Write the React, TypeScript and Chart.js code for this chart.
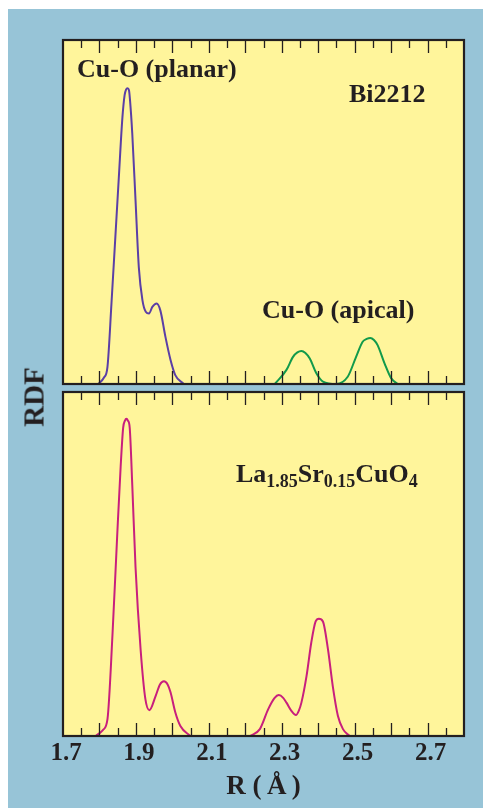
import React, { useEffect, useRef } from 'react';
import { Chart, registerables } from 'chart.js';

Chart.register(...registerables);

// ---- axis definition ----
const R_MIN = 1.7;
const R_MAX = 2.8;
const TICK_LABELS = ['1.7', '1.9', '2.1', '2.3', '2.5', '2.7'];
const MAJOR_TICKS = [1.8, 1.9, 2.0, 2.1, 2.2, 2.3, 2.4, 2.5, 2.6, 2.7];
const MINOR_TICKS = [1.75, 1.85, 1.95, 2.05, 2.15, 2.25, 2.35, 2.45, 2.55, 2.65, 2.75];

// ---- Bi2212: Cu-O (planar) ----
const biPlanarR = [1.797, 1.812, 1.822, 1.833, 1.843, 1.853, 1.863, 1.869, 1.873, 1.877, 1.881, 1.884, 1.890, 1.899, 1.908, 1.918, 1.927, 1.936, 1.945, 1.957, 1.967, 1.981, 1.995, 2.008, 2.031];
const biPlanarRDF = [0, 1.8, 5.0, 23.5, 41.6, 59.8, 77.5, 84.0, 85.6, 86.0, 85.4, 82.3, 72.8, 53.3, 33.9, 24.3, 21.0, 20.5, 22.4, 23.4, 21.4, 13.7, 7.0, 2.6, 0];

// ---- Bi2212: Cu-O (apical) ----
const biApicalR = [2.281, 2.313, 2.331, 2.343, 2.354, 2.365, 2.377, 2.395, 2.413, 2.450, 2.481, 2.504, 2.522, 2.533, 2.543, 2.553, 2.563, 2.582, 2.600, 2.618];
const biApicalRDF = [0, 4.1, 7.9, 9.2, 9.6, 9.0, 7.4, 3.1, 0.7, 0, 2.1, 7.9, 12.3, 13.1, 13.4, 12.8, 11.3, 6.0, 1.7, 0];

// ---- La1.85Sr0.15CuO4 ----
const lscoLowR = [1.790, 1.810, 1.822, 1.836, 1.849, 1.858, 1.865, 1.870, 1.874, 1.878, 1.883, 1.890, 1.899, 1.913, 1.926, 1.937, 1.954, 1.966, 1.977, 1.987, 1.995, 2.008, 2.022, 2.049];
const lscoLowRDF = [0, 1.8, 4.9, 30, 59, 78, 89.6, 91.7, 92.2, 91.7, 89.6, 73, 49, 25, 10.7, 7.5, 11.6, 15.0, 15.9, 15.0, 12.7, 6.9, 2.9, 0];
const lscoHighR = [2.213, 2.240, 2.263, 2.280, 2.292, 2.304, 2.313, 2.326, 2.339, 2.347, 2.354, 2.368, 2.381, 2.393, 2.402, 2.413, 2.427, 2.440, 2.454, 2.468, 2.486];
const lscoHighRDF = [0, 2.0, 7.8, 11.0, 11.9, 11.1, 9.7, 7.4, 6.1, 7.4, 9.7, 17.4, 27.1, 33.3, 34.1, 33.3, 25.1, 14.5, 5.9, 2.0, 0];

// ---- styles ----
const FONT = '"Liberation Serif", "Times New Roman", serif';
const INK = '#231f20';
const PANEL = '#fff59b';
const BG = '#97c4d7';
const PURPLE = '#5b3fa6';
const GREEN = '#129a4b';
const MAGENTA = '#c81f7d';

type Part = { t: string; sub?: boolean };
type Note = { parts: Part[]; dx: number; dy: number };

const TOP_NOTES: Note[] = [
  { parts: [{ t: 'Cu-O (planar)' }], dx: 14, dy: 37 },
  { parts: [{ t: 'Bi2212' }], dx: 286, dy: 62 },
  { parts: [{ t: 'Cu-O (apical)' }], dx: 199, dy: 278 },
];
const BOTTOM_NOTES: Note[] = [
  {
    parts: [
      { t: 'La' }, { t: '1.85', sub: true }, { t: 'Sr' }, { t: '0.15', sub: true },
      { t: 'CuO' }, { t: '4', sub: true },
    ],
    dx: 173,
    dy: 90,
  },
];

const pts = (r: number[], v: number[]) => r.map((x, i) => ({ x, y: v[i] }));

const line = (label: string, r: number[], v: number[], color: string) => ({
  label,
  data: pts(r, v),
  borderColor: color,
  borderWidth: 2,
  pointRadius: 0,
  fill: false,
  cubicInterpolationMode: 'monotone' as const,
});

const framePlugin = (notes: Note[]) => ({
  id: 'frame',
  beforeDraw(chart: any) {
    const { ctx, chartArea: a } = chart;
    ctx.save();
    ctx.fillStyle = PANEL;
    ctx.fillRect(a.left, a.top, a.right - a.left, a.bottom - a.top);
    ctx.restore();
  },
  afterDatasetsDraw(chart: any) {
    const { ctx, chartArea: a, scales } = chart;
    const x = scales.x;
    ctx.save();
    ctx.strokeStyle = INK;
    ctx.lineWidth = 1.3;
    const drawTicks = (vals: number[], len: number) =>
      vals.forEach((v) => {
        const px = Math.round(x.getPixelForValue(v)) + 0.5;
        ctx.beginPath();
        ctx.moveTo(px, a.top);
        ctx.lineTo(px, a.top + len);
        ctx.moveTo(px, a.bottom);
        ctx.lineTo(px, a.bottom - len);
        ctx.stroke();
      });
    drawTicks(MAJOR_TICKS, 13);
    drawTicks(MINOR_TICKS, 8);
    ctx.lineWidth = 2.2;
    ctx.strokeRect(a.left, a.top, a.right - a.left, a.bottom - a.top);

    ctx.fillStyle = INK;
    ctx.textBaseline = 'alphabetic';
    ctx.textAlign = 'left';
    notes.forEach((n) => {
      let cx = a.left + n.dx;
      const by = a.top + n.dy;
      n.parts.forEach((p) => {
        ctx.font = `bold ${p.sub ? 18 : 26}px ${FONT}`;
        ctx.fillText(p.t, cx, by + (p.sub ? 5 : 0));
        cx += ctx.measureText(p.t).width;
      });
    });
    ctx.restore();
  },
});

function TopPanel() {
  const ref = useRef<HTMLCanvasElement>(null);
  useEffect(() => {
    const chart = new Chart(ref.current!, {
      type: 'line',
      data: {
        datasets: [
          line('Cu-O (planar)', biPlanarR, biPlanarRDF, PURPLE),
          line('Cu-O (apical)', biApicalR, biApicalRDF, GREEN),
        ],
      },
      options: {
        responsive: false,
        animation: false,
        events: [],
        layout: { padding: 5 },
        plugins: { legend: { display: false }, tooltip: { enabled: false } },
        scales: {
          x: { type: 'linear', min: R_MIN, max: R_MAX, display: false },
          y: { type: 'linear', min: 0, max: 100, display: false },
        },
      },
      plugins: [framePlugin(TOP_NOTES)],
    });
    return () => chart.destroy();
  }, []);
  return (
    <canvas
      ref={ref}
      width={411}
      height={354}
      style={{ position: 'absolute', left: 50, top: 26, display: 'block' }}
    />
  );
}

function BottomPanel() {
  const ref = useRef<HTMLCanvasElement>(null);
  useEffect(() => {
    const chart = new Chart(ref.current!, {
      type: 'line',
      data: {
        datasets: [
          line('La1.85Sr0.15CuO4', lscoLowR, lscoLowRDF, MAGENTA),
          line('La1.85Sr0.15CuO4 ', lscoHighR, lscoHighRDF, MAGENTA),
        ],
      },
      options: {
        responsive: false,
        animation: false,
        events: [],
        layout: { padding: { left: 30, right: 10, top: 5, bottom: 0 } },
        plugins: { legend: { display: false }, tooltip: { enabled: false } },
        scales: {
          x: {
            type: 'linear',
            min: R_MIN,
            max: R_MAX,
            grid: { display: false, drawTicks: false },
            border: { display: false },
            afterBuildTicks: (s: any) => {
              s.ticks = TICK_LABELS.map((t) => ({ value: Number(t) }));
            },
            afterFit: (s: any) => {
              s.height = 72;
            },
            ticks: {
              autoSkip: false,
              maxRotation: 0,
              padding: 3,
              labelOffset: 3,
              color: INK,
              font: { family: FONT, size: 25, weight: 'bold' },
              callback: (_v: any, i: number) => TICK_LABELS[i],
            },
            title: {
              display: true,
              text: 'R (\u2009Å\u2009)',
              color: INK,
              font: { family: FONT, size: 27, weight: 'bold' },
              padding: { top: 0, bottom: 5 },
            },
          },
          y: { type: 'linear', min: 0, max: 100, display: false },
        },
      },
      plugins: [framePlugin(BOTTOM_NOTES)],
    });
    return () => chart.destroy();
  }, []);
  return (
    <canvas
      ref={ref}
      width={441}
      height={421}
      style={{ position: 'absolute', left: 25, top: 378, display: 'block' }}
    />
  );
}

export default function App() {
  return (
    <div
      style={{
        position: 'fixed',
        left: 8,
        top: 9,
        width: 475,
        height: 799,
        background: BG,
        overflow: 'hidden',
      }}
    >
      <TopPanel />
      <BottomPanel />
      <div
        style={{
          position: 'absolute',
          left: 25.5,
          top: 388,
          transform: 'translate(-50%, -50%) rotate(-90deg)',
          font: `bold 29px ${FONT}`,
          color: INK,
          lineHeight: 1,
          whiteSpace: 'nowrap',
        }}
      >
        RDF
      </div>
    </div>
  );
}
